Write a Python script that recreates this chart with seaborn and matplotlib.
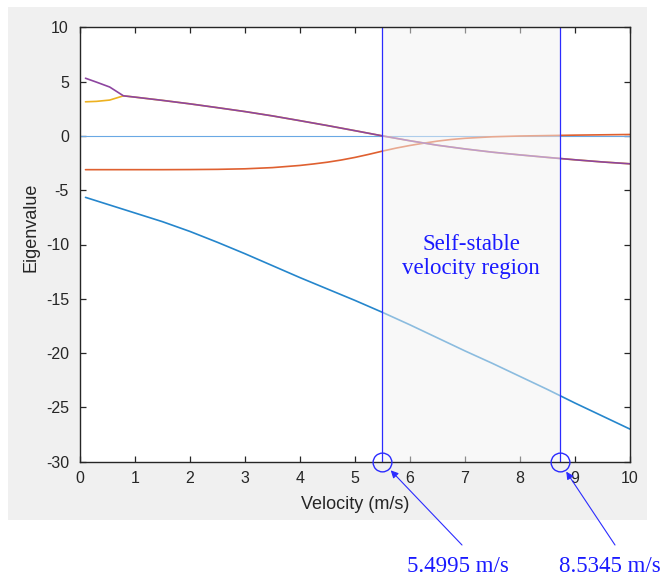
import matplotlib
matplotlib.use("Agg")
import matplotlib.pyplot as plt
import seaborn as sns
import pandas as pd
from matplotlib.patches import Rectangle

# ---------------- data ----------------
v_blue = [0.1, 0.5, 1.0, 1.5, 2.0, 2.5, 3.0, 3.5, 4.0, 4.5, 5.0, 5.5, 6.0, 6.5,
          7.0, 7.5, 8.0, 8.5, 9.0, 9.5, 10.0]
eig_blue = [-5.66, -6.3, -7.1, -7.9, -8.8, -9.8, -10.85, -11.95, -13.05, -14.1,
            -15.15, -16.25, -17.4, -18.6, -19.8, -20.95, -22.15, -23.35, -24.6,
            -25.8, -27.0]

v_orange = [0.1, 0.5, 1.0, 1.5, 2.0, 2.5, 3.0, 3.5, 4.0, 4.25, 4.5, 4.75, 5.0,
            5.25, 5.5, 5.75, 6.0, 6.25, 6.5, 6.75, 7.0, 7.5, 8.0, 8.5, 9.0, 9.5, 10.0]
eig_orange = [-3.11, -3.11, -3.11, -3.11, -3.1, -3.08, -3.03, -2.92, -2.72, -2.58,
              -2.42, -2.22, -1.98, -1.70, -1.40, -1.12, -0.88, -0.67, -0.48, -0.33,
              -0.22, -0.08, -0.01, 0.03, 0.07, 0.10, 0.13]

v_pair = [0.1, 0.3, 0.54, 0.79, 1.0, 1.5, 2.0, 2.5, 3.0, 3.5, 4.0, 4.5, 5.0, 5.5,
          6.0, 6.5, 7.0, 7.5, 8.0, 8.5, 9.0, 9.5, 10.0]
eig_yellow = [3.14, 3.18, 3.3, 3.69, 3.57, 3.27, 2.95, 2.6, 2.24, 1.84, 1.4, 0.95,
              0.48, 0.0, -0.45, -0.86, -1.2, -1.5, -1.75, -1.98, -2.2, -2.4, -2.57]
eig_purple = [5.31, 4.95, 4.5, 3.69, 3.57, 3.27, 2.95, 2.6, 2.24, 1.84, 1.4, 0.95,
              0.48, 0.0, -0.45, -0.86, -1.2, -1.5, -1.75, -1.98, -2.2, -2.4, -2.57]

v_low = 5.4995          # lower bound of region (label value)
v_high_line = 8.72      # drawn position of the upper boundary line
label_low = "5.4995 m/s"
label_high = "8.5345 m/s"
region_text = "Self-stable\nvelocity region"

xticks = list(range(0, 11))
yticks = list(range(-30, 11, 5))

# ---------------- style ----------------
sns.set_style("white")
plt.rcParams["font.family"] = ["Liberation Sans", "DejaVu Sans"]
plt.rcParams["axes.unicode_minus"] = False

W, H = 661, 580
fig = plt.figure(figsize=(W / 100, H / 100), dpi=100)
fig.patch.set_facecolor("white")
bg = Rectangle((8 / W, (H - 520) / H), (647 - 8) / W, (520 - 7) / H,
               transform=fig.transFigure, facecolor="#f0f0f0",
               edgecolor="none", zorder=-10)
fig.patches.append(bg)

ax = fig.add_axes([80 / W, (H - 461.7) / H, 550 / W, 434.4 / H])
ax.set_facecolor("white")

lw = 1.2
ax.axhline(0, color="#6aa8e4", lw=0.8, zorder=2)
sns.lineplot(x=v_blue, y=eig_blue, color="#2586cc", lw=lw, ax=ax, zorder=2)
sns.lineplot(x=v_orange, y=eig_orange, color="#df6030", lw=lw, ax=ax, zorder=2)
sns.lineplot(x=v_pair, y=eig_yellow, color="#edb120", lw=lw, ax=ax, zorder=2)
sns.lineplot(x=v_pair, y=eig_purple, color="#8d45a0", lw=lw, ax=ax, zorder=2)

# shaded self-stable region (drawn over the curves, fading them)
ax.axvspan(v_low, v_high_line, facecolor=(0.95, 0.95, 0.95), alpha=0.5,
           edgecolor="none", zorder=3)
ax.axvline(v_low, color="#2b2bff", lw=0.9, zorder=4)
ax.axvline(v_high_line, color="#2b2bff", lw=0.9, zorder=4)

ax.text((v_low + v_high_line) / 2, -11.1, region_text, ha="center", va="center",
        color="#1a1aff", fontsize=16.5, family=["Liberation Serif", "DejaVu Serif"],
        linespacing=1.2, zorder=5)

ax.set_xlim(0, 10)
ax.set_ylim(-30, 10)
ax.set_xticks(xticks)
ax.set_yticks(yticks)
ax.tick_params(direction="in", length=4, width=0.9, colors="#262626",
               labelcolor="#262626", labelsize=11.5, top=True, right=True,
               bottom=True, left=True, pad=7)
ax.tick_params(axis="y", pad=8)
for s in ax.spines.values():
    s.set_color("#262626")
    s.set_linewidth(1.0)
    s.set_zorder(6)

ax.set_xlabel("Velocity (m/s)", fontsize=13, color="#262626")
ax.set_ylabel("Eigenvalue", fontsize=13, color="#262626")
ax.xaxis.set_label_coords(0.5, -0.079)
ax.yaxis.set_label_coords(-0.073, 0.54)

# circles at the boundary points
ax.plot([v_low, v_high_line], [-30, -30], linestyle="none", marker="o",
        markersize=13.5, markerfacecolor="none", markeredgecolor="#2b2bff",
        markeredgewidth=1.0, clip_on=False, zorder=7)

# arrows and labels below the axes
arrow_kw = dict(arrowstyle="-|>", color="#2b2bff", lw=0.8, shrinkA=0,
                shrinkB=8.6, mutation_scale=11)
ax.annotate("", xy=(v_low, -30), xycoords="data", xytext=(462, H - 545),
            textcoords="figure pixels", arrowprops=arrow_kw, annotation_clip=False)
ax.annotate("", xy=(v_high_line, -30), xycoords="data", xytext=(615, H - 545),
            textcoords="figure pixels", arrowprops=arrow_kw, annotation_clip=False)

fig.text(458 / W, (H - 572) / H, label_low, ha="center", va="baseline",
         color="#1a1aff", fontsize=16.5, family=["Liberation Serif", "DejaVu Serif"])
fig.text(610 / W, (H - 572) / H, label_high, ha="center", va="baseline",
         color="#1a1aff", fontsize=16.5, family=["Liberation Serif", "DejaVu Serif"])

fig.savefig("out.png", dpi=100, facecolor=fig.get_facecolor())
